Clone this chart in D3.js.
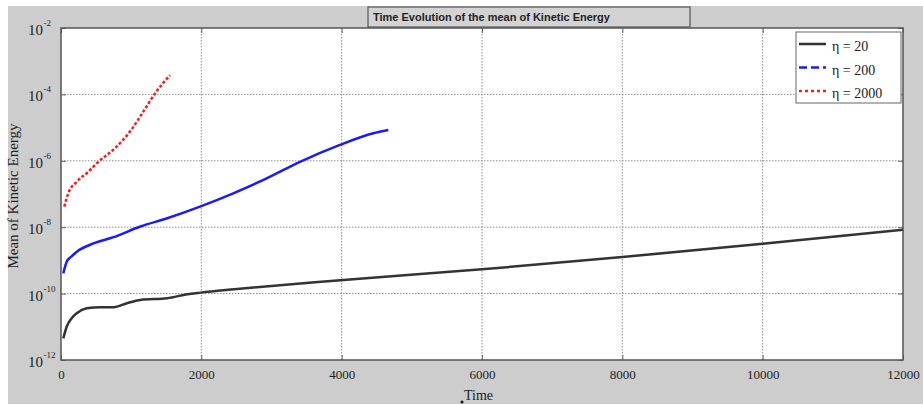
<!DOCTYPE html>
<meta charset="utf-8">
<head>
  <title>Kinetic energy</title>
</head>
<style>
body { margin: 0; background: #fff; }
.grid line { stroke: #8f8f8f; stroke-dasharray: 1.5,1.5; }
.tick text { font-family: "Liberation Serif", serif; }
</style>
<body>
<svg id="chart" width="923" height="405"></svg>
<script src="https://cdnjs.cloudflare.com/ajax/libs/d3/7.8.5/d3.min.js"></script>
<script>
// eta = 20
var timeBlack = [33, 81, 150, 225, 368, 558, 749, 940, 1131, 1514, 1800, 1990, 2470, 3709, 6000, 8000, 10000, 12000];
var keBlack = [4.47e-12, 1.0e-11, 1.78e-11, 2.57e-11, 3.63e-11, 3.89e-11, 3.89e-11, 5.13e-11, 6.46e-11, 7.24e-11,
               9.55e-11, 1.07e-10, 1.35e-10, 2.29e-10, 5.37e-10, 1.26e-9, 3.16e-9, 8.32e-9];
// eta = 200
var timeBlue = [33, 81, 150, 225, 463, 749, 1131, 1514, 1981, 2455, 2931, 3406, 3976, 4451, 4665];
var keBlue = [4.07e-10, 9.12e-10, 1.32e-9, 1.82e-9, 3.24e-9, 5.01e-9, 1.05e-8, 1.86e-8, 4.17e-8, 1.05e-7,
              2.95e-7, 9.33e-7, 3.02e-6, 6.76e-6, 8.51e-6];
// eta = 2000
var timeRed = [47, 104, 224, 389, 532, 770, 983, 1173, 1340, 1553];
var keRed = [4.17e-8, 1.05e-7, 2.34e-7, 4.68e-7, 9.33e-7, 2.40e-6, 7.59e-6, 3.02e-5, 1.07e-4, 3.80e-4];

var xTicks = [0, 2000, 4000, 6000, 8000, 10000, 12000];
var yExponents = [-12, -10, -8, -6, -4, -2];
var legendLabels = ["\u03b7 = 20", "\u03b7 = 200", "\u03b7 = 2000"];

var pLeft = 61, pRight = 903, pTop = 28, pBottom = 360;

var svg = d3.select("#chart");

// gray figure background
svg.append("rect")
  .attr("x", 8).attr("y", 6)
  .attr("width", 915).attr("height", 398)
  .attr("fill", "#cdcdcd");

svg.append("rect")
  .attr("x", pLeft).attr("y", pTop)
  .attr("width", pRight - pLeft).attr("height", pBottom - pTop)
  .attr("fill", "#fff");

var x = d3.scaleLinear().domain([0, 12000]).range([pLeft, pRight]);
var y = d3.scaleLog().domain([1e-12, 1e-2]).range([pBottom, pTop]);

// grid
var grid = svg.append("g").attr("class", "grid");
grid.selectAll(".gx")
  .data(xTicks.slice(1, -1))
  .enter().append("line")
  .attr("x1", function(d) { return x(d); })
  .attr("x2", function(d) { return x(d); })
  .attr("y1", pTop).attr("y2", pBottom);
grid.selectAll(".gy")
  .data(yExponents.slice(1, -1))
  .enter().append("line")
  .attr("y1", function(d) { return y(Math.pow(10, d)); })
  .attr("y2", function(d) { return y(Math.pow(10, d)); })
  .attr("x1", pLeft).attr("x2", pRight);

// axes
var xAxis = d3.axisBottom(x)
  .tickValues(xTicks)
  .tickFormat(d3.format("d"))
  .tickSizeInner(-5)
  .tickSizeOuter(0)
  .tickPadding(10);
var gx = svg.append("g")
  .attr("transform", "translate(0," + pBottom + ")")
  .call(xAxis);
gx.select(".domain").remove();
gx.selectAll(".tick line").attr("stroke", "#666");
gx.selectAll(".tick text").attr("font-size", 13).attr("fill", "#222");

svg.append("g")
  .attr("transform", "translate(0," + pTop + ")")
  .call(d3.axisTop(x).tickValues(xTicks).tickSizeInner(-5).tickSizeOuter(0).tickFormat(""))
  .call(function(g) { g.select(".domain").remove(); g.selectAll("line").attr("stroke", "#666"); });

var yAxis = d3.axisLeft(y)
  .tickValues(yExponents.map(function(e) { return Math.pow(10, e); }))
  .tickSizeInner(-5).tickSizeOuter(0).tickFormat("");
svg.append("g")
  .attr("transform", "translate(" + pLeft + ",0)")
  .call(yAxis)
  .call(function(g) { g.select(".domain").remove(); g.selectAll("line").attr("stroke", "#666"); });
svg.append("g")
  .attr("transform", "translate(" + pRight + ",0)")
  .call(d3.axisRight(y).tickValues(yExponents.map(function(e) { return Math.pow(10, e); }))
    .tickSizeInner(-5).tickSizeOuter(0).tickFormat(""))
  .call(function(g) { g.select(".domain").remove(); g.selectAll("line").attr("stroke", "#666"); });

// y tick labels with superscripts
var ylab = svg.append("g").attr("font-family", "Liberation Serif, serif").attr("fill", "#222");
yExponents.forEach(function(e) {
  var yy = y(Math.pow(10, e));
  ylab.append("text")
    .attr("x", 43).attr("y", yy + 7)
    .attr("text-anchor", "end")
    .attr("font-size", 15)
    .text("10");
  ylab.append("text")
    .attr("x", 43.5).attr("y", yy - 2)
    .attr("font-size", 9)
    .text(e);
});

// plot frame
svg.append("rect")
  .attr("x", pLeft).attr("y", pTop)
  .attr("width", pRight - pLeft).attr("height", pBottom - pTop)
  .attr("fill", "none")
  .attr("stroke", "#555")
  .attr("stroke-width", 1.5);

// lines
var line = d3.line()
  .x(function(d) { return x(d[0]); })
  .y(function(d) { return y(d[1]); })
  .curve(d3.curveMonotoneX);

var series = [
  { t: timeBlack, v: keBlack, color: "#333", dash: null },
  { t: timeBlue, v: keBlue, color: "#1a1aff", dash: null },
  { t: timeRed, v: keRed, color: "#ff1a1a", dash: "3,2" }
];
series.forEach(function(s) {
  svg.append("path")
    .datum(d3.zip(s.t, s.v))
    .attr("d", line)
    .attr("fill", "none")
    .attr("stroke", s.color)
    .attr("stroke-width", 2.5)
    .attr("stroke-dasharray", s.dash);
});

// legend
var legend = svg.append("g");
legend.append("rect")
  .attr("x", 796).attr("y", 32)
  .attr("width", 105).attr("height", 71)
  .attr("fill", "#fff")
  .attr("stroke", "#666")
  .attr("stroke-width", 1);
var legendDash = [null, "8,4", "3,3"];
var legendColor = ["#333", "#1a1aff", "#ff1a1a"];
legendLabels.forEach(function(lbl, i) {
  var ly = 44 + i * 23.5;
  legend.append("line")
    .attr("x1", 799).attr("x2", 826)
    .attr("y1", ly).attr("y2", ly)
    .attr("stroke", legendColor[i])
    .attr("stroke-width", 2.5)
    .attr("stroke-dasharray", legendDash[i]);
  legend.append("text")
    .attr("x", 832).attr("y", ly + 7)
    .attr("font-family", "Liberation Serif, serif")
    .attr("font-size", 14)
    .attr("fill", "#222")
    .text(lbl);
});

// title
svg.append("rect")
  .attr("x", 368).attr("y", 7)
  .attr("width", 322).attr("height", 20)
  .attr("fill", "#d3d3d3")
  .attr("stroke", "#555")
  .attr("stroke-width", 1.2);
svg.append("text")
  .attr("x", 373).attr("y", 21)
  .attr("font-family", "Liberation Sans, Arial, sans-serif")
  .attr("font-weight", "bold")
  .attr("font-size", 11)
  .attr("fill", "#222")
  .text("Time Evolution of the mean of Kinetic Energy");

// axis titles
svg.append("text")
  .attr("x", 464).attr("y", 400)
  .attr("font-family", "Liberation Serif, serif")
  .attr("font-size", 14)
  .attr("fill", "#222")
  .text("Time");
svg.append("circle")
  .attr("cx", 462).attr("cy", 402).attr("r", 1.5)
  .attr("fill", "#111");

svg.append("text")
  .attr("transform", "translate(18,196) rotate(-90)")
  .attr("text-anchor", "middle")
  .attr("font-family", "Liberation Serif, serif")
  .attr("font-size", 15)
  .attr("fill", "#222")
  .text("Mean of Kinetic Energy");
</script>
</body>
</html>
